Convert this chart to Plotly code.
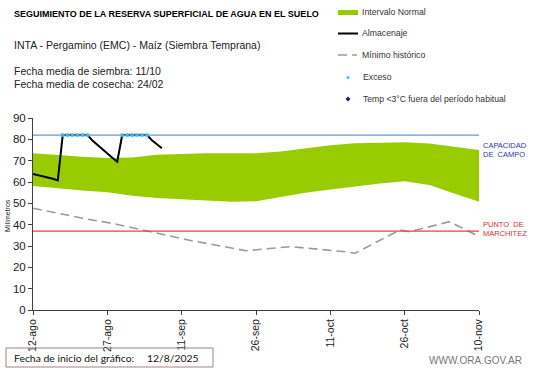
import plotly.graph_objects as go

# ---------------- data ----------------
band_dates = ["2025-08-12", "2025-08-17", "2025-08-22", "2025-08-27", "2025-09-01",
              "2025-09-06", "2025-09-11", "2025-09-16", "2025-09-21", "2025-09-26",
              "2025-10-01", "2025-10-06", "2025-10-11", "2025-10-16", "2025-10-21",
              "2025-10-26", "2025-10-31", "2025-11-05", "2025-11-10"]
band_top = [73.5, 72.5, 71.8, 71.3, 71.5, 72.8, 73.3, 73.5, 73.5, 73.5,
            74.3, 75.8, 77.2, 78.2, 78.5, 78.6, 78.0, 76.5, 75.0]
band_bottom = [58.1, 57.0, 56.0, 55.2, 53.5, 52.5, 51.8, 51.2, 50.7, 51.0,
               53.0, 55.0, 56.5, 58.0, 59.3, 60.3, 58.6, 54.6, 50.8]

alm_dates = ["2025-08-%02d" % d for d in range(12, 32)] + ["2025-09-%02d" % d for d in range(1, 8)]
alm_values = [63.8, 63.3, 62.8, 62.2, 61.5, 60.7, 82, 82, 82, 82, 82, 82,
              79.4, 77.3, 75.3, 73.3, 71.4, 69.5, 82, 82, 82, 82, 82, 82,
              79.6, 77.6, 75.8]

exceso_dates = ["2025-08-18", "2025-08-19", "2025-08-20", "2025-08-21", "2025-08-22",
                "2025-08-23", "2025-08-30", "2025-08-31", "2025-09-01", "2025-09-02",
                "2025-09-03", "2025-09-04"]
exceso_values = [82, 82, 82, 82, 82, 82, 82, 82, 82, 82, 82, 82]

min_dates = ["2025-08-12", "2025-08-18", "2025-08-22", "2025-08-28", "2025-09-04",
             "2025-09-13", "2025-09-24", "2025-10-03", "2025-10-14", "2025-10-16",
             "2025-10-25", "2025-10-27", "2025-11-04", "2025-11-10"]
min_values = [47.7, 44.9, 43.0, 40.6, 37.0, 32.5, 27.8, 29.7, 27.3, 26.6,
              37.5, 36.7, 41.4, 34.5]

capacidad_campo = 82
punto_marchitez = 37

tick_dates = ["2025-08-12", "2025-08-27", "2025-09-11", "2025-09-26",
              "2025-10-11", "2025-10-26", "2025-11-10"]
tick_labels = ["12-ago", "27-ago", "11-sep", "26-sep", "11-oct", "26-oct", "10-nov"]
y_ticks = [0, 10, 20, 30, 40, 50, 60, 70, 80, 90]

# ---------------- geometry ----------------
W, H = 541, 368
L, R, T, B = 33, 62, 118, 58
PW, PH = W - L - R, H - T - B
FONT = "Liberation Sans, Arial, sans-serif"


def px(x):
    return (x - L) / PW


def py(y):
    return (H - B - y) / PH


fig = go.Figure()

# normal interval band
fig.add_trace(go.Scatter(x=band_dates, y=band_bottom, mode="lines",
                         line=dict(width=0, color="#99CC00"), hoverinfo="skip",
                         showlegend=False))
fig.add_trace(go.Scatter(x=band_dates, y=band_top, mode="lines", fill="tonexty",
                         fillcolor="#99CC00", line=dict(width=0, color="#99CC00"),
                         showlegend=False))

# reference lines
fig.add_hline(y=capacidad_campo, line=dict(color="#6F93D6", width=1.2))
fig.add_hline(y=punto_marchitez, line=dict(color="#D0484F", width=1.2))

# minimum historic
fig.add_trace(go.Scatter(x=min_dates, y=min_values, mode="lines",
                         line=dict(color="#9A9A9A", width=1.6, dash="9px,5px"),
                         showlegend=False))

# storage
fig.add_trace(go.Scatter(x=alm_dates, y=alm_values, mode="lines",
                         line=dict(color="#000000", width=2),
                         showlegend=False))

# excess markers
fig.add_trace(go.Scatter(x=exceso_dates, y=exceso_values, mode="markers",
                         marker=dict(color="#33CCEE", size=3.5, symbol="square"),
                         showlegend=False))

fig.update_xaxes(type="date", range=[tick_dates[0], tick_dates[-1]],
                 tickvals=tick_dates, ticktext=tick_labels, tickangle=-90,
                 showgrid=False, zeroline=False, showline=True, linecolor="#404040",
                 linewidth=1, ticks="outside", ticklen=4, tickcolor="#404040",
                 tickfont=dict(family=FONT, size=10.5, color="#222"))
fig.update_yaxes(range=[0, 90], tickvals=y_ticks, showgrid=False, zeroline=False,
                 showline=True, linecolor="#404040", linewidth=1, ticks="outside",
                 ticklen=4, tickcolor="#404040",
                 tickfont=dict(family=FONT, size=11.5, color="#222"))

ann = []


def text(x, y, t, size, color="#222", bold=False, anchor="left", angle=0, family=FONT):
    ann.append(dict(x=px(x), y=py(y), xref="paper", yref="paper",
                    text=("<b>%s</b>" % t if bold else t),
                    showarrow=False, xanchor=anchor, yanchor="middle", textangle=angle,
                    font=dict(family=family, size=size, color=color)))


text(12, 14, "SEGUIMIENTO DE LA RESERVA SUPERFICIAL DE AGUA EN EL SUELO", 9, "#000", bold=True)
text(12, 45, "INTA - Pergamino (EMC) - Maíz (Siembra Temprana)", 10.5, "#222")
text(12, 71, "Fecha media de siembra: 11/10", 10.5, "#222")
text(12, 83.5, "Fecha media de cosecha: 24/02", 10.5, "#222")

# legend
text(360, 12.5, "Intervalo Normal", 8.7, "#333")
text(360, 33.5, "Almacenaje", 8.7, "#333")
text(360, 55, "Mínimo histórico", 8.7, "#333")
text(361, 77, "Exceso", 8.7, "#333")
text(361, 98.5, "Temp &lt;3°C fuera del período habitual", 8.6, "#333")

# right labels
text(481, 145, "CAPACIDAD", 7.5, "#3333AA")
text(481, 154, "DE  CAMPO", 7.5, "#3333AA")
text(481, 224.5, "PUNTO  DE", 7.5, "#CC3333")
text(481, 233.5, "MARCHITEZ", 7.5, "#CC3333")

# y title
text(7, 216, "Milímetros", 7, "#222", anchor="center", angle=-90)

# bottom
text(12, 357.5, "Fecha de inicio del gráfico:", 10.4, "#111", family="Lato, sans-serif")
text(145, 357.5, "12/8/2025", 10.4, "#111", family="Lato, sans-serif")
text(427, 360, "WWW.ORA.GOV.AR", 10, "#777")

shapes = [
    dict(type="rect", xref="paper", yref="paper", x0=px(338), x1=px(358), y0=py(10), y1=py(15),
         fillcolor="#99CC00", line=dict(width=0)),
    dict(type="line", xref="paper", yref="paper", x0=px(338), x1=px(358), y0=py(33.5), y1=py(33.5),
         line=dict(color="#000", width=2)),
    dict(type="line", xref="paper", yref="paper", x0=px(338), x1=px(347), y0=py(55), y1=py(55),
         line=dict(color="#9A9A9A", width=1.5)),
    dict(type="line", xref="paper", yref="paper", x0=px(352), x1=px(357), y0=py(55), y1=py(55),
         line=dict(color="#9A9A9A", width=1.5)),
    dict(type="circle", xref="paper", yref="paper", x0=px(346.5), x1=px(349.5), y0=py(76), y1=py(79),
         fillcolor="#33CCEE", line=dict(width=0)),
    dict(type="path", xref="paper", yref="paper",
         path="M %f,%f L %f,%f L %f,%f L %f,%f Z" % (px(348), py(96.5), px(350.5), py(99),
                                                      px(348), py(101.5), px(345.5), py(99)),
         fillcolor="#1A1A8C", line=dict(width=0)),
    dict(type="rect", xref="paper", yref="paper", x0=px(6), x1=px(213), y0=py(348), y1=py(367),
         fillcolor="rgba(0,0,0,0)", line=dict(color="#A08585", width=1)),
]
fig.update_layout(shapes=list(fig.layout.shapes) + shapes, annotations=ann)

fig.update_layout(
    width=W, height=H, margin=dict(l=L, r=R, t=T, b=B, pad=0),
    paper_bgcolor="white", plot_bgcolor="white", showlegend=False,
)

fig.write_html("out.html", config={"displayModeBar": False},
               post_script="document.body.style.margin='0';")
